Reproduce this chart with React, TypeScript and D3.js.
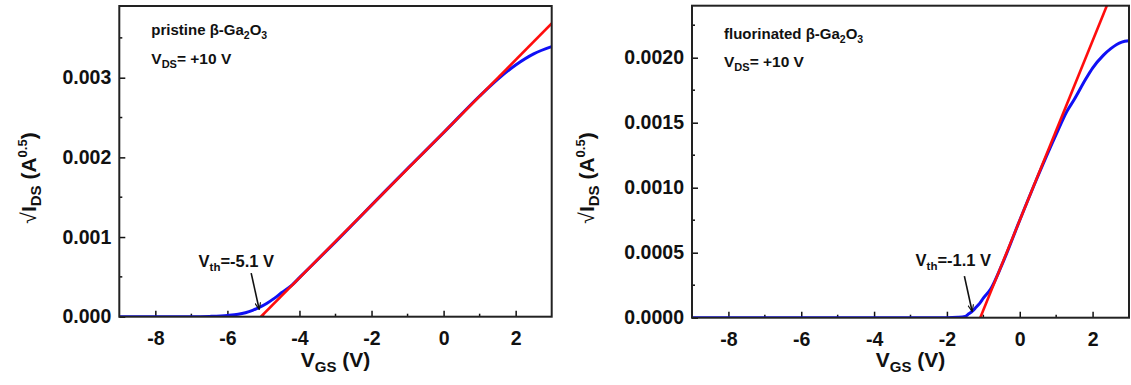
import React, { useEffect, useRef } from "react";
import * as d3 from "d3";

// pristine panel
const pristineVgs = [-9, -8, -7, -6.5, -6, -5.7, -5.5, -5.3, -5.1, -4.9, -4.7, -4.5, -4.2, -4, -3, -2, -1, 0, 1, 1.5, 2, 2.5, 3];
const pristineSqrtIds = [0, 0, 0, 0.000004, 0.000015, 0.00003, 0.00005, 0.00008, 0.00012, 0.00017, 0.00023, 0.0003, 0.0004, 0.00049, 0.00094, 0.0014, 0.00186, 0.00231, 0.00277, 0.00298, 0.00316, 0.0033, 0.00339];
const pristineFitVgs = [-5.07, 3];
const pristineFitIds = [0, 0.00368];

// fluorinated panel
const fluorVgs = [-9, -8, -6, -4, -2, -1.7, -1.5, -1.4, -1.3, -1.2, -1.1, -1.0, -0.8, -0.5, 0, 0.5, 1.0, 1.3, 1.5, 1.8, 2.0, 2.3, 2.5, 2.8, 3];
const fluorSqrtIds = [0, 0, 0, 0, 0, 0.000003, 0.00001, 0.00003, 0.00005, 0.00008, 0.00011, 0.00015, 0.00022, 0.00040, 0.00075, 0.00109, 0.00141, 0.00159, 0.00168, 0.00183, 0.00192, 0.00202, 0.00207, 0.00212, 0.00213];
const fluorFitVgs = [-1.085, 3];
const fluorFitIds = [0, 0.00282];

const xTicks = [-8, -6, -4, -2, 0, 2];
const pristineYTicks = [0, 0.001, 0.002, 0.003];
const fluorYTicks = [0, 0.0005, 0.001, 0.0015, 0.002];

const panels = [
  {
    id: "p",
    left: 119.3, right: 551.7, top: 6, bottom: 316.7,
    yMax: 0.0039, yTicks: pristineYTicks, yMinorStep: 0.0005, fmt: ".3f",
    vgs: pristineVgs, ids: pristineSqrtIds, fitX: pristineFitVgs, fitY: pristineFitIds,
    name: "pristine", vth: "-5.1 V",
    arrow: [[-5.34, 0.000547], [-5.12, 0.000097]],
    vthPos: [-6.8, 0.00063],
    titleX: 36,
  },
  {
    id: "f",
    left: 692, right: 1129, top: 5.7, bottom: 317.7,
    yMax: 0.0024, yTicks: fluorYTicks, yMinorStep: 0.00025, fmt: ".4f",
    vgs: fluorVgs, ids: fluorSqrtIds, fitX: fluorFitVgs, fitY: fluorFitIds,
    name: "fluorinated", vth: "-1.1 V",
    arrow: [[-1.52, 0.00032], [-1.31, 0.0000515]],
    vthPos: [-2.86, 0.000394],
    titleX: 594,
  },
];

const FONT = "'Liberation Sans', Arial, sans-serif";

const App = () => {
  const ref = useRef<SVGSVGElement | null>(null);

  useEffect(() => {
    const svg = d3.select(ref.current).attr("width", 1131).attr("height", 385);
    svg.selectAll("*").remove();

    const defs = svg.append("defs");
    defs
      .append("marker")
      .attr("id", "arr")
      .attr("viewBox", "0 0 10 10")
      .attr("refX", 9)
      .attr("refY", 5)
      .attr("markerWidth", 7)
      .attr("markerHeight", 7)
      .attr("markerUnits", "userSpaceOnUse")
      .attr("orient", "auto")
      .append("path")
      .attr("d", "M0,1 L10,5 L0,9")
      .attr("fill", "none")
      .attr("stroke", "#111")
      .attr("stroke-width", 1.6);

    panels.forEach((p) => {
      const x = d3.scaleLinear().domain([-9, 3]).range([p.left, p.right]);
      const y = d3.scaleLinear().domain([0, p.yMax]).range([p.bottom, p.top]);

      defs
        .append("clipPath")
        .attr("id", `clip-${p.id}`)
        .append("rect")
        .attr("x", p.left)
        .attr("y", p.top)
        .attr("width", p.right - p.left)
        .attr("height", p.bottom - p.top);

      const g = svg.append("g");

      // ticks (inward)
      const bottomAxis = g
        .append("g")
        .attr("transform", `translate(0,${p.bottom})`)
        .call(d3.axisBottom(x).tickValues(xTicks).tickSize(-6).tickPadding(14).tickFormat(d3.format("d")));
      bottomAxis.select(".domain").remove();
      bottomAxis.selectAll("line").attr("stroke", "#111").attr("stroke-width", 1.5);
      bottomAxis
        .selectAll("text")
        .attr("font-family", FONT)
        .attr("font-weight", "bold")
        .attr("font-size", 19.5)
        .attr("fill", "#111")
        .text((d: any) => (d < 0 ? "-" + Math.abs(d) : String(d)));

      const minorX = d3.range(-9, 3.01, 1).filter((v) => !xTicks.includes(v) && v > -9 && v < 3);
      g.selectAll(".mx")
        .data(minorX)
        .join("line")
        .attr("x1", (d) => x(d))
        .attr("x2", (d) => x(d))
        .attr("y1", p.bottom)
        .attr("y2", p.bottom - 3)
        .attr("stroke", "#111")
        .attr("stroke-width", 1.5);

      const leftAxis = g
        .append("g")
        .attr("transform", `translate(${p.left},0)`)
        .call(d3.axisLeft(y).tickValues(p.yTicks).tickSize(-6).tickPadding(8).tickFormat(d3.format(p.fmt)));
      leftAxis.select(".domain").remove();
      leftAxis.selectAll("line").attr("stroke", "#111").attr("stroke-width", 1.5);
      leftAxis
        .selectAll("text")
        .attr("font-family", FONT)
        .attr("font-weight", "bold")
        .attr("font-size", 19.5)
        .attr("fill", "#111");

      const minorY = d3
        .range(p.yMinorStep, p.yMax, p.yMinorStep * 2)
        .filter((v) => v < p.yMax);
      g.selectAll(".my")
        .data(minorY)
        .join("line")
        .attr("x1", p.left)
        .attr("x2", p.left + 3)
        .attr("y1", (d) => y(d))
        .attr("y2", (d) => y(d))
        .attr("stroke", "#111")
        .attr("stroke-width", 1.5);

      // curves
      const line = d3
        .line<[number, number]>()
        .x((d) => x(d[0]))
        .y((d) => y(d[1]))
        .curve(d3.curveMonotoneX);

      const pts: [number, number][] = p.vgs.map((v, i) => [v, p.ids[i]]);
      const fit: [number, number][] = p.fitX.map((v, i) => [v, p.fitY[i]]);

      const plot = g.append("g").attr("clip-path", `url(#clip-${p.id})`);
      plot
        .append("path")
        .datum(pts)
        .attr("fill", "none")
        .attr("stroke", "#1010f5")
        .attr("stroke-width", 3)
        .attr("d", line);
      plot
        .append("path")
        .datum(fit)
        .attr("fill", "none")
        .attr("stroke", "#ff0d0d")
        .attr("stroke-width", 2.6)
        .attr("d", d3.line<[number, number]>().x((d) => x(d[0])).y((d) => y(d[1])));

      // frame
      g.append("rect")
        .attr("x", p.left)
        .attr("y", p.top)
        .attr("width", p.right - p.left)
        .attr("height", p.bottom - p.top)
        .attr("fill", "none")
        .attr("stroke", "#222")
        .attr("stroke-width", 2);

      // inset labels
      const t1 = g
        .append("text")
        .attr("x", p.left + 32)
        .attr("y", p.id === "p" ? 35 : 39)
        .attr("font-family", FONT)
        .attr("font-weight", "bold")
        .attr("font-size", 15)
        .attr("fill", "#111");
      t1.append("tspan").text(`${p.name} β-Ga`);
      t1.append("tspan").attr("font-size", 10.5).attr("dy", 4).text("2");
      t1.append("tspan").attr("dy", -4).text("O");
      t1.append("tspan").attr("font-size", 10.5).attr("dy", 4).text("3");

      const t2 = g
        .append("text")
        .attr("x", p.left + 32)
        .attr("y", p.id === "p" ? 64 : 67)
        .attr("font-family", FONT)
        .attr("font-weight", "bold")
        .attr("font-size", 15.5)
        .attr("fill", "#111");
      t2.append("tspan").text("V");
      t2.append("tspan").attr("font-size", 11).attr("dy", 4).text("DS");
      t2.append("tspan").attr("dy", -4).text("= +10 V");

      // Vth annotation
      const t3 = g
        .append("text")
        .attr("x", x(p.vthPos[0]))
        .attr("y", y(p.vthPos[1]))
        .attr("font-family", FONT)
        .attr("font-weight", "bold")
        .attr("font-size", 16.5)
        .attr("fill", "#111");
      t3.append("tspan").text("V");
      t3.append("tspan").attr("font-size", 11.5).attr("dy", 4).text("th");
      t3.append("tspan").attr("dy", -4).text(`=${p.vth}`);

      g.append("line")
        .attr("x1", x(p.arrow[0][0]))
        .attr("y1", y(p.arrow[0][1]))
        .attr("x2", x(p.arrow[1][0]))
        .attr("y2", y(p.arrow[1][1]))
        .attr("stroke", "#111")
        .attr("stroke-width", 1.6)
        .attr("marker-end", "url(#arr)");

      // axis titles
      const xt = g
        .append("text")
        .attr("x", (p.left + p.right) / 2)
        .attr("y", 367)
        .attr("text-anchor", "middle")
        .attr("font-family", FONT)
        .attr("font-weight", "bold")
        .attr("font-size", 21)
        .attr("fill", "#111");
      xt.append("tspan").text("V");
      xt.append("tspan").attr("font-size", 15).attr("dy", 5).text("GS");
      xt.append("tspan").attr("dy", -5).text(" (V)");

      const yt = g
        .append("text")
        .attr("transform", `translate(${p.titleX},178) rotate(-90)`)
        .attr("text-anchor", "middle")
        .attr("font-family", FONT)
        .attr("font-weight", "bold")
        .attr("font-size", 21)
        .attr("fill", "#111");
      yt.append("tspan").attr("font-weight", "normal").text("√");
      yt.append("tspan").text("I");
      yt.append("tspan").attr("font-size", 15).attr("dy", 5).text("DS");
      yt.append("tspan").attr("dy", -5).text(" (A");
      yt.append("tspan").attr("font-size", 13).attr("dy", -9).text("0.5");
      yt.append("tspan").attr("dy", 9).text(")");
    });
  }, []);

  return <svg ref={ref} style={{ position: "absolute", left: 0, top: 0, background: "#fff" }} />;
};

export default App;
